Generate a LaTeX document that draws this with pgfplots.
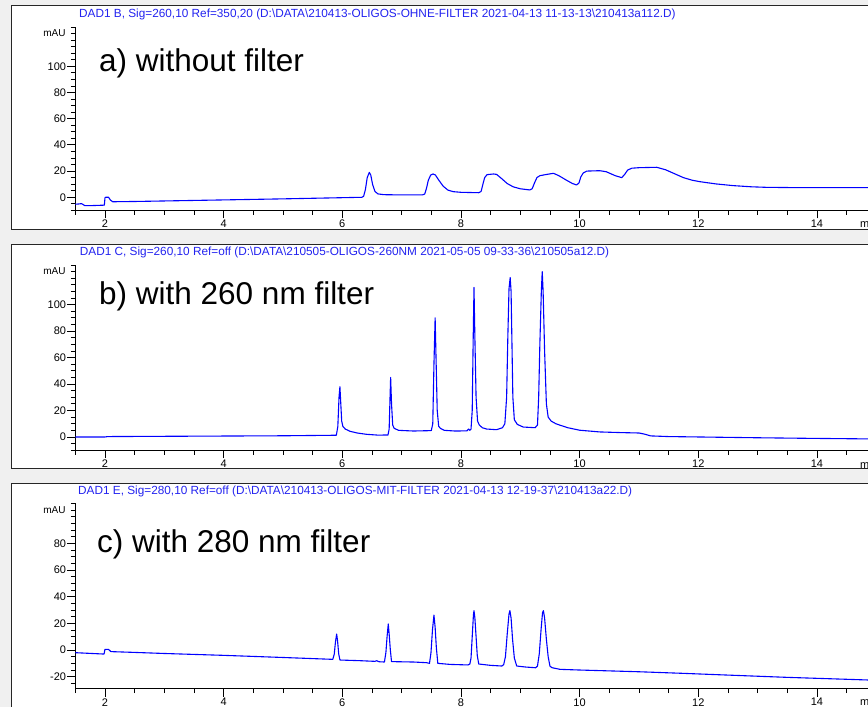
\documentclass[border=0pt]{standalone}
\usepackage{fontspec}
\setmainfont{Liberation Sans}
\usepackage{pgfplots}
\pgfplotsset{compat=1.18}

\definecolor{bgc}{RGB}{240,240,240}
\definecolor{tracec}{RGB}{0,0,255}
\definecolor{ttl}{RGB}{35,35,240}

\pgfplotsset{
  chroma/.style={
    x=59.33pt, xmin=1.5, xmax=14.95,
    anchor=south west,
    axis x line=bottom, axis y line=left,
    axis line style={-, line width=0.8pt, black},
    tick align=outside,
    major tick length=8pt, minor tick length=4.5pt,
    every tick/.style={black, line width=0.8pt},
    xtick={2,4,...,14},
    minor xtick={1.5,2,...,14.5},
    minor ytick={-30,-25,...,130},
    tick label style={font=\fontsize{11}{13}\selectfont,
      /pgf/number format/assume math mode=true},
    xticklabel style={inner sep=1.5pt},
    yticklabel style={inner sep=1pt},
    clip=false,
  },
  chromline/.style={color=tracec, line width=1.1pt, line join=round},
}
\newcommand{\mau}[1]{\node[anchor=east, inner sep=0pt, xshift=-9.6pt,
  font=\fontsize{10}{12}\selectfont] at (axis cs:1.5,#1) {mAU};}
\newcommand{\ttlfont}{\fontsize{11.8}{14}\selectfont}
\newcommand{\bigfont}{\fontsize{31.5}{36}\selectfont}

\begin{document}
\begin{tikzpicture}
\fill[bgc] (0pt,0pt) rectangle (868pt,707pt);
\filldraw[fill=white, draw=black!85, line width=1pt] (11pt,477pt) rectangle (880pt,701pt);
\filldraw[fill=white, draw=black!85, line width=1pt] (11pt,238pt) rectangle (880pt,462pt);
\filldraw[fill=white, draw=black!85, line width=1pt] (11pt,-10pt) rectangle (880pt,223pt);

% a) without filter
\begin{axis}[chroma, at={(75.3pt,496.6pt)}, y=1.31pt, ymin=-10, ymax=130,
  ytick={0,20,...,100}]
\addplot[chromline] coordinates {
(1.50,-5.3) (1.58,-5.0) (1.60,-4.8) (1.62,-5.2) (1.66,-6.4) (1.80,-6.3) (1.99,-6.0)
(2.00,-0.5) (2.01,0) (2.06,0) (2.09,-2.0) (2.13,-3.4) (2.5,-3.2) (3.0,-2.8)
(4.0,-2.0) (5.0,-1.2) (6.0,-0.3) (6.33,0) (6.36,0.8) (6.39,6) (6.42,15) (6.455,19)
(6.48,17) (6.51,10) (6.55,4.5) (6.60,2.6) (6.7,2.0) (7.0,1.8) (7.35,1.8) (7.39,2.5)
(7.42,7) (7.45,13) (7.49,17) (7.53,17.8) (7.57,17) (7.62,13.5) (7.70,8.5) (7.78,5.5)
(7.87,4.3) (8.0,3.8) (8.30,3.5) (8.34,4.5) (8.37,10) (8.40,15) (8.44,17.3) (8.55,17.8)
(8.60,17.5) (8.68,14.5) (8.78,10.5) (8.88,8) (9.0,6.5) (9.16,5.6) (9.20,6.5) (9.24,11)
(9.28,15) (9.33,16.5) (9.45,17.5) (9.56,18.3) (9.65,16.5) (9.78,13) (9.88,10.5)
(9.95,9.4) (9.99,11) (10.02,15.5) (10.06,18.5) (10.12,20) (10.34,20.3) (10.45,19.5)
(10.60,16.5) (10.71,15) (10.76,17.5) (10.81,20.8) (10.88,22.2) (11.0,22.6) (11.3,22.9)
(11.45,21) (11.6,18) (11.75,15) (11.9,13) (12.03,11.9) (12.3,10.2) (12.59,8.9)
(12.9,8.0) (13.15,7.6) (13.6,7.4) (14.2,7.4) (14.95,7.4)
};
\mau{125}
\end{axis}

% b) with 260 nm filter
\begin{axis}[chroma, at={(75.3pt,256.8pt)}, y=1.323pt, ymin=-10, ymax=130,
  ytick={0,20,...,100}]
\addplot[chromline] coordinates {
(1.5,0) (2.0,0) (2.05,0.3) (3,0.5) (4,0.7) (5,0.9) (5.90,1.3) (5.925,8) (5.945,30)
(5.96,38) (5.975,25) (5.99,12) (6.01,8) (6.05,6) (6.13,4.3) (6.25,3.0) (6.41,2.0)
(6.6,1.4) (6.77,1.5) (6.79,6) (6.805,30) (6.815,45) (6.83,25) (6.85,9) (6.875,6.5)
(6.95,5) (7.2,4.5) (7.50,4.8) (7.525,10) (7.545,55) (7.565,90) (7.58,60) (7.60,20)
(7.625,8) (7.66,6.3) (7.72,5) (7.9,4.5) (8.1,4.6) (8.13,6) (8.15,5) (8.17,6) (8.19,20)
(8.205,70) (8.22,113) (8.235,75) (8.255,30) (8.28,12) (8.31,9) (8.36,7) (8.43,6)
(8.6,5.5) (8.70,7) (8.74,10) (8.77,30) (8.79,75) (8.81,112) (8.83,120.5)
(8.845,110) (8.86,70) (8.875,30) (8.90,13) (8.95,9.5) (9.05,7.5) (9.25,7) (9.29,9)
(9.31,30) (9.33,70) (9.355,110) (9.37,125) (9.385,110) (9.41,65) (9.44,25) (9.47,15)
(9.52,12) (9.6,10) (9.67,8.9) (9.8,7) (10.0,5.1) (10.34,3.8) (10.7,3.3) (11.0,3.0)
(11.08,2.3) (11.2,0.8) (11.5,0.3) (12.0,0) (13,-0.6) (14,-1.1) (14.95,-1.5)
};
\mau{125}
\end{axis}

% c) with 280 nm filter
\begin{axis}[chroma, at={(75.3pt,18.3pt)}, y=1.334pt, ymin=-29, ymax=110,
  ytick={-20,0,...,80}]
\addplot[chromline] coordinates {
(1.5,-2) (1.97,-3) (1.985,-3) (2.0,0.5) (2.06,0.5) (2.1,-1.2) (2.5,-1.8) (3,-2.6)
(4,-4.0) (5,-5.6) (5.84,-7) (5.865,-3) (5.885,6) (5.905,12) (5.92,7) (5.94,-3)
(5.96,-7.5) (6.3,-8) (6.55,-8.5) (6.58,-8) (6.62,-8.8) (6.71,-9) (6.735,-2)
(6.755,10) (6.775,19.5) (6.79,12) (6.81,0) (6.83,-8.7) (7.2,-9) (7.42,-9.5)
(7.47,-10) (7.495,-2) (7.52,15) (7.545,26.2) (7.565,17) (7.585,2) (7.61,-10)
(7.82,-10.8) (8.12,-11.2) (8.15,-10.5) (8.17,-6) (8.19,10) (8.21,26) (8.22,29.5)
(8.235,24) (8.255,10) (8.275,-4) (8.30,-10.5) (8.5,-11.5) (8.69,-12) (8.72,-11)
(8.75,-5) (8.78,12) (8.81,27) (8.825,29.5) (8.845,24) (8.87,8) (8.9,-6) (8.94,-12)
(9.1,-12.8) (9.26,-13.3) (9.29,-12) (9.32,-3) (9.35,15) (9.375,28) (9.39,29.5)
(9.41,24) (9.44,8) (9.47,-5) (9.50,-12) (9.53,-13.2) (9.67,-14.5) (10,-15)
(11,-16.3) (11.75,-17.5) (12.5,-18.8) (13.5,-20.5) (14.95,-22.6)
};
\mau{105}
\end{axis}

% run titles
\node[anchor=base west, inner sep=0pt, text=ttl, font=\ttlfont] at (79pt,689.7pt)
  {DAD1 B, Sig=260,10 Ref=350,20 (D:\textbackslash DATA\textbackslash 210413-OLIGOS-OHNE-FILTER 2021-04-13 11-13-13\textbackslash 210413a112.D)};
\node[anchor=base west, inner sep=0pt, text=ttl, font=\ttlfont] at (79.7pt,451pt)
  {DAD1 C, Sig=260,10 Ref=off (D:\textbackslash DATA\textbackslash 210505-OLIGOS-260NM 2021-05-05 09-33-36\textbackslash 210505a12.D)};
\node[anchor=base west, inner sep=0pt, text=ttl, font=\ttlfont] at (78pt,212pt)
  {DAD1 E, Sig=280,10 Ref=off (D:\textbackslash DATA\textbackslash 210413-OLIGOS-MIT-FILTER 2021-04-13 12-19-37\textbackslash 210413a22.D)};

% panel labels
\node[anchor=base west, inner sep=0pt, font=\bigfont] at (99pt,635pt) {a) without filter};
\node[anchor=base west, inner sep=0pt, font=\bigfont] at (99pt,402pt) {b) with 260 nm filter};
\node[anchor=base west, inner sep=0pt, font=\bigfont] at (97pt,154.3pt) {c) with 280 nm filter};

% axis unit at the right end (cut by the page edge, as in the original)
\node[anchor=base west, inner sep=0pt, font=\fontsize{11}{13}\selectfont] at (860pt,479.7pt) {min};
\node[anchor=base west, inner sep=0pt, font=\fontsize{11}{13}\selectfont] at (860pt,238.7pt) {min};
\node[anchor=base west, inner sep=0pt, font=\fontsize{11}{13}\selectfont] at (860pt,1pt) {min};

\pgfresetboundingbox
\useasboundingbox (0pt,0pt) rectangle (868pt,707pt);
\end{tikzpicture}
\end{document}
